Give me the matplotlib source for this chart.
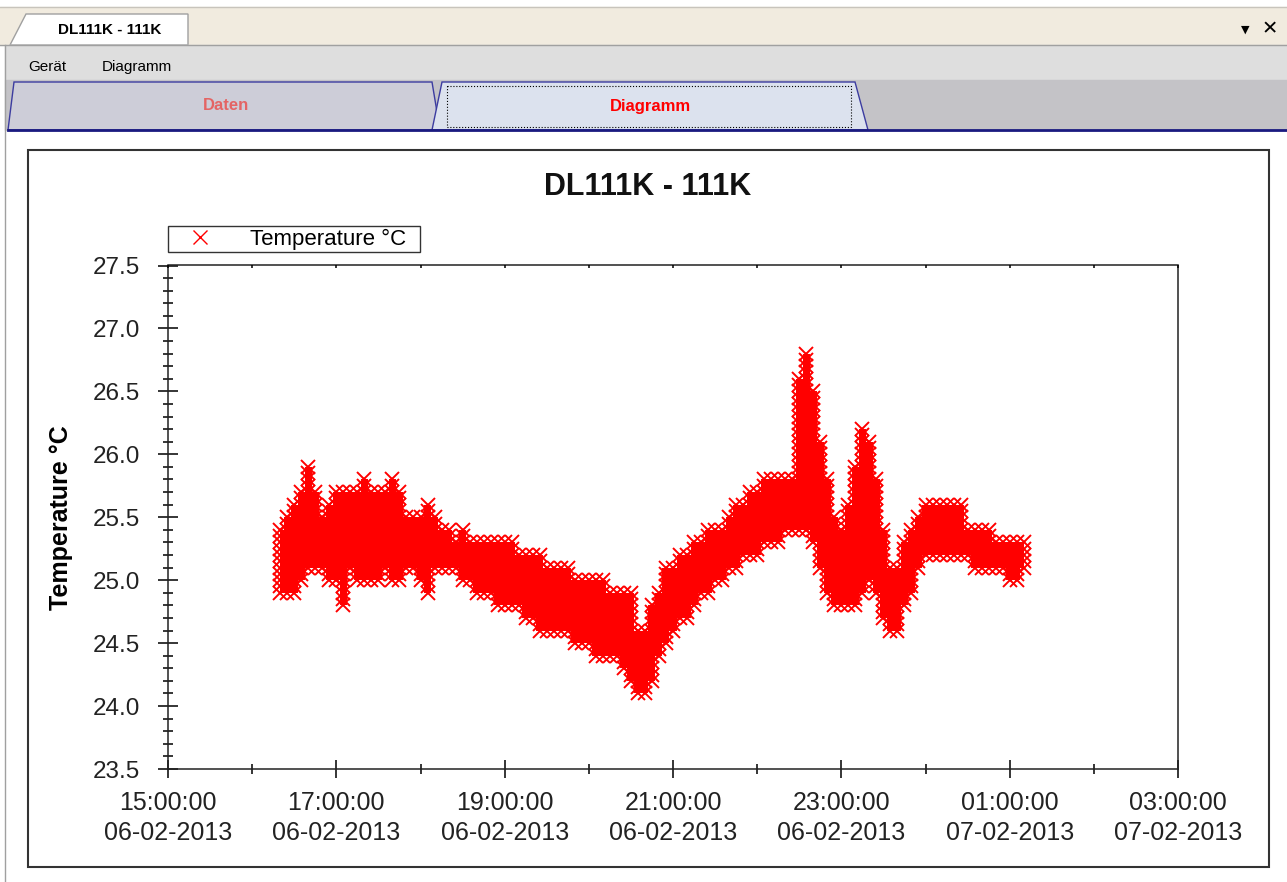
import matplotlib
matplotlib.use('Agg')
import matplotlib.pyplot as plt
import matplotlib.dates as mdates
from matplotlib.patches import Rectangle, Polygon
from matplotlib.ticker import MultipleLocator, FormatStrFormatter
import numpy as np
import pandas as pd

plt.rcParams['font.family'] = ['Liberation Sans', 'DejaVu Sans']

# readings every 5 minutes, starting 06-02-2013 16:20, band of values seen at each step
start = '2013-02-06 16:20'
temp_hi = [25.4, 25.5, 25.6, 25.7, 25.9, 25.7, 25.5, 25.6, 25.7, 25.7,
           25.7, 25.7, 25.8, 25.7, 25.7, 25.7, 25.8, 25.7, 25.5, 25.5,
           25.5, 25.6, 25.5, 25.4, 25.4, 25.3, 25.4, 25.3, 25.3, 25.3,
           25.3, 25.3, 25.3, 25.3, 25.2, 25.2, 25.2, 25.2, 25.1, 25.1,
           25.1, 25.1, 25.0, 25.0, 25.0, 25.0, 25.0, 24.9, 24.9, 24.9,
           24.9, 24.6, 24.6, 24.8, 24.9, 25.1, 25.1, 25.2, 25.2, 25.3,
           25.3, 25.4, 25.4, 25.4, 25.5, 25.6, 25.6, 25.7, 25.7, 25.8,
           25.8, 25.8, 25.8, 25.8, 26.6, 26.8, 26.5, 26.1, 25.8, 25.5,
           25.4, 25.6, 25.9, 26.2, 26.1, 25.8, 25.4, 25.1, 25.1, 25.3,
           25.4, 25.5, 25.6, 25.6, 25.6, 25.6, 25.6, 25.6, 25.4, 25.4,
           25.4, 25.4, 25.3, 25.3, 25.3, 25.3, 25.3]
temp_lo = [24.9, 24.9, 24.9, 25.0, 25.1, 25.1, 25.1, 25.0, 25.0, 24.8,
           25.1, 25.0, 25.0, 25.0, 25.0, 25.1, 25.0, 25.0, 25.1, 25.1,
           25.0, 24.9, 25.1, 25.1, 25.1, 25.1, 25.0, 25.0, 24.9, 24.9,
           24.9, 24.8, 24.8, 24.8, 24.8, 24.7, 24.7, 24.6, 24.6, 24.6,
           24.6, 24.6, 24.5, 24.5, 24.5, 24.4, 24.4, 24.4, 24.4, 24.3,
           24.2, 24.1, 24.1, 24.2, 24.4, 24.5, 24.6, 24.7, 24.7, 24.8,
           24.9, 24.9, 25.0, 25.0, 25.1, 25.1, 25.2, 25.2, 25.2, 25.3,
           25.3, 25.3, 25.4, 25.4, 25.4, 25.4, 25.3, 25.1, 24.9, 24.8,
           24.8, 24.8, 24.8, 24.9, 25.0, 24.9, 24.7, 24.6, 24.6, 24.8,
           24.9, 25.1, 25.2, 25.2, 25.2, 25.2, 25.2, 25.2, 25.2, 25.1,
           25.1, 25.1, 25.1, 25.1, 25.0, 25.0, 25.1]

times = pd.date_range(start, periods=len(temp_hi), freq='5min')

# expand each band into the individual 0.05 readings
xs, ys = [], []
for t, lo, hi in zip(times, temp_lo, temp_hi):
    vals = np.arange(lo, hi + 0.001, 0.05)
    xs.extend([t] * len(vals))
    ys.extend(vals)

W, H = 1287, 882
fig = plt.figure(figsize=(W / 100, H / 100), dpi=100)

# window chrome drawn in pixel coordinates
bg = fig.add_axes([0, 0, 1, 1], zorder=0)
bg.set_xlim(0, W)
bg.set_ylim(H, 0)
bg.axis('off')
bg.add_patch(Rectangle((0, 0), W, H, color='white'))
bg.add_patch(Rectangle((0, 7), W, 38, color='#F1EBDF'))
bg.plot([0, W], [7, 7], color='#C8C4BC', lw=1)
bg.add_patch(Polygon([(10, 45), (26, 14), (188, 14), (188, 45)], closed=True,
                     facecolor='white', edgecolor='#A0A0A0', lw=1))
bg.text(110, 30, 'DL111K - 111K', ha='center', va='center', fontsize=11, fontweight='bold')
bg.text(1245, 30, '▼', ha='center', va='center', fontsize=8, family=['DejaVu Sans'])
bg.text(1270, 29, '✕', ha='center', va='center', fontsize=14, family=['DejaVu Sans'])
bg.add_patch(Rectangle((5, 45), W, 35, color='#DEDEDE'))
bg.plot([0, W], [45, 45], color='#A0A0A0', lw=1)
bg.text(28, 67, 'Gerät', ha='left', va='center', fontsize=11)
bg.text(102, 67, 'Diagramm', ha='left', va='center', fontsize=11)
bg.add_patch(Rectangle((5, 80), W, 50, color='#C4C3C7'))
bg.add_patch(Polygon([(8, 130), (14, 82), (432, 82), (440, 130)], closed=True,
                     facecolor='#CDCDD8', edgecolor='#3C3CA0', lw=1))
bg.add_patch(Polygon([(432, 130), (442, 82), (855, 82), (868, 130)], closed=True,
                     facecolor='#DCE2EE', edgecolor='#3C3CA0', lw=1))
bg.add_patch(Rectangle((447, 86), 404, 41, fill=False, edgecolor='black', lw=0.8, ls=':'))
bg.plot([8, W], [130, 130], color='#1A1A80', lw=2)
bg.text(226, 106, 'Daten', ha='center', va='center', fontsize=12, fontweight='bold', color='#E46464')
bg.text(650, 106, 'Diagramm', ha='center', va='center', fontsize=12, fontweight='bold', color='#FF0000')
bg.plot([5, 5], [45, H], color='#A0A0A0', lw=1)
bg.add_patch(Rectangle((28, 150), 1241, 717, fill=False, edgecolor='#333333', lw=1.5))
bg.text(648, 187, 'DL111K - 111K', ha='center', va='center', fontsize=22, fontweight='bold', color='#111111')

# chart
ax = fig.add_axes([168 / W, 1 - 769 / H, 1010 / W, 503.5 / H], zorder=2)
ax.fill_between(times, temp_lo, temp_hi, step='mid', color='#FF0000', lw=0)
ax.plot(xs, ys, linestyle='none', marker='x', ms=10, mew=1.4, color='#FF0000',
        label='Temperature °C')

ax.set_xlim(pd.Timestamp('2013-02-06 15:00'), pd.Timestamp('2013-02-07 03:00'))
ax.set_ylim(23.5, 27.5)
ax.xaxis.set_major_locator(mdates.HourLocator(byhour=range(1, 24, 2)))
ax.xaxis.set_minor_locator(mdates.HourLocator())
ax.xaxis.set_major_formatter(mdates.DateFormatter('%H:%M:%S\n%d-%m-%Y'))
ax.yaxis.set_major_locator(MultipleLocator(0.5))
ax.yaxis.set_minor_locator(MultipleLocator(0.1))
ax.yaxis.set_major_formatter(FormatStrFormatter('%.1f'))

ax.tick_params(axis='x', which='major', direction='inout', length=13.5, width=1.1,
               pad=9, labelsize=18, labelcolor='#222222', top=False)
ax.tick_params(axis='x', which='minor', direction='inout', length=7, width=1.1, top=False)
ax.tick_params(axis='y', which='major', direction='inout', length=14, width=1.1,
               pad=13, labelsize=17.5, labelcolor='#222222', right=False)
ax.tick_params(axis='y', which='minor', direction='inout', length=7, width=1.1, right=False)
for tick in ax.xaxis.get_major_ticks():
    tick.label1.set_linespacing(1.3)
for s in ax.spines.values():
    s.set_linewidth(1.1)
    s.set_color('#222222')

ax.set_ylabel('Temperature °C', fontsize=18, fontweight='bold')
ax.yaxis.set_label_coords(-0.094, 0.5)

# small hourly ticks along the top edge
ax2 = ax.twiny()
ax2.set_xlim(ax.get_xlim())
ax2.xaxis.set_major_locator(mdates.HourLocator())
ax2.tick_params(axis='x', direction='in', length=2.5, width=1.1, labeltop=False)
for s in ax2.spines.values():
    s.set_visible(False)

leg = ax.legend(loc='lower left', bbox_to_anchor=(168 / W, 1 - 252 / H, 252 / W, 28 / H),
                bbox_transform=fig.transFigure, mode='expand', frameon=True, fancybox=False,
                edgecolor='black', fontsize=16, borderpad=0.1, handlelength=2.7,
                handletextpad=0.9, borderaxespad=0, numpoints=1)
leg.get_frame().set_linewidth(1.0)
for h in leg.legend_handles:
    h.set_markeredgewidth(1.0)

fig.savefig('out.png', dpi=100)
